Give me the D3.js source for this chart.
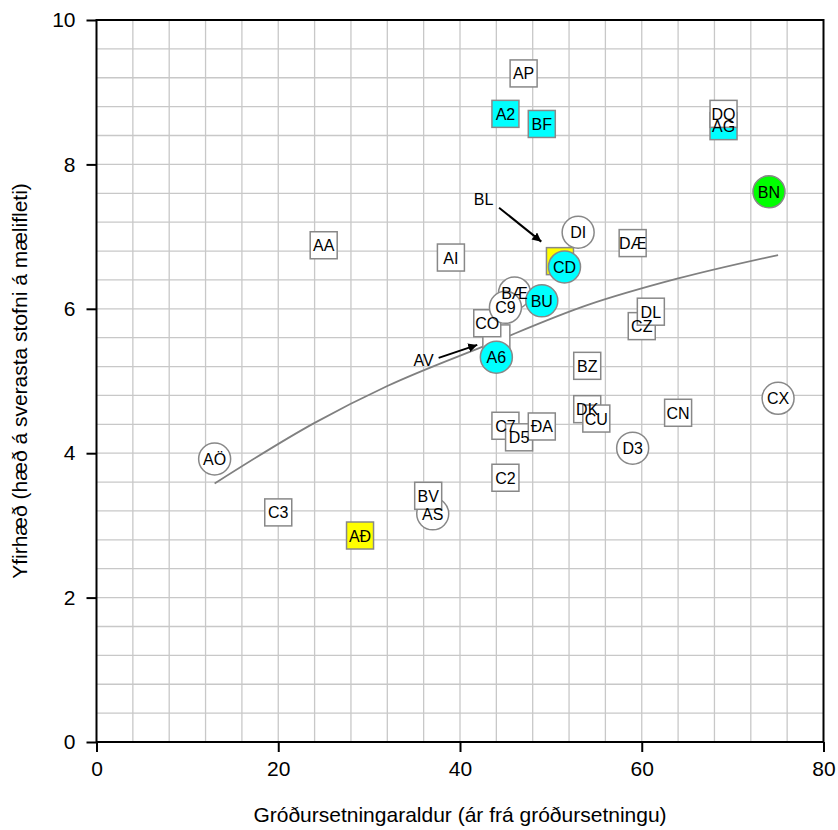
<!DOCTYPE html>
<html>
<head>
<meta charset="utf-8">
<script src="https://cdn.jsdelivr.net/npm/d3@7"></script>
<style>
  body { margin: 0; background: #fff; }
  svg { font-family: "Liberation Sans", Arial, sans-serif; }
</style>
</head>
<body>
<div id="chart"></div>
<script>
// data (drawing order = bottom to top)
const names  = ["AS","BV","AG","DQ","CZ","DL","DK","CU","C7","D5","ĐA","AV","CO","BÆ","C9","BU","A6","BL","CD",
                "AP","A2","BF","DI","DÆ","AI","AA","BN","BZ","CN","D3","C2","AÖ","C3","AĐ","CX"];
const ages   = [37,36.5,69,69,60,61,54,55,45,46.5,49,44,43,46,45,49,44,51,51.5,
                47,45,49,53,59,39,25,74,54,64,59,45,13,20,29,75];
const height = [3.16,3.41,8.53,8.70,5.76,5.96,4.61,4.48,4.38,4.22,4.37,5.59,5.80,6.22,6.02,6.11,5.33,6.66,6.58,
                9.26,8.70,8.56,7.06,6.91,6.71,6.88,7.62,5.21,4.56,4.07,3.66,3.92,3.18,2.86,4.76];
const shapes = ["c","s","s","s","s","s","s","s","s","s","s","s","s","c","c","c","c","s","c",
                "s","s","s","c","s","s","s","c","s","s","c","s","c","s","s","c"];
const fills  = ["w","w","cy","w","w","w","w","w","w","w","w","w","w","w","w","cy","cy","ye","cy",
                "w","cy","cy","w","w","w","w","gr","w","w","w","w","w","w","ye","w"];
// points labelled with an arrow instead of inside the marker
const arrowed = ["BL", "AV"];

// trend line
const trendX = [13, 24, 32, 43, 54, 64, 75];
const trendY = [3.58, 4.42, 4.93, 5.50, 6.05, 6.42, 6.745];

// annotations: label, label pos, arrow start, arrow end
const notes = [
  {text: "BL", lx: 42.6, ly: 7.52, x1: 44.3, y1: 7.40, x2: 48.95, y2: 6.93},
  {text: "AV", lx: 36.0, ly: 5.29, x1: 37.65, y1: 5.32, x2: 41.9, y2: 5.50}
];

const xTicks = [0, 20, 40, 60, 80];
const yTicks = [0, 2, 4, 6, 8, 10];

const colors = {w: "#ffffff", cy: "#00ffff", ye: "#ffff00", gr: "#00ff00"};

const margin = {top: 20, right: 14.5, bottom: 88, left: 96.5};
const W = 838, H = 830;
const width = W - margin.left - margin.right;
const height2 = H - margin.top - margin.bottom;

const svg = d3.select("#chart").append("svg")
  .attr("width", W).attr("height", H);

svg.append("defs").append("marker")
  .attr("id", "arrow")
  .attr("viewBox", "0 0 10 10")
  .attr("refX", 10).attr("refY", 5)
  .attr("markerWidth", 9).attr("markerHeight", 9)
  .attr("markerUnits", "userSpaceOnUse")
  .attr("orient", "auto")
  .append("path").attr("d", "M0,0 L10,5 L0,10 z").attr("fill", "#000");

const g = svg.append("g")
  .attr("transform", "translate(" + margin.left + "," + margin.top + ")");

const x = d3.scaleLinear().domain([0, 80]).range([0, width]);
const y = d3.scaleLinear().domain([0, 10]).range([height2, 0]);

// grid
g.append("g").selectAll("line")
  .data(d3.range(4, 80, 4))
  .enter().append("line")
  .attr("x1", d => x(d)).attr("x2", d => x(d))
  .attr("y1", 0).attr("y2", height2)
  .attr("stroke", "#c8c8c8").attr("stroke-width", 1.3);
g.append("g").selectAll("line")
  .data(d3.range(1, 25).map(i => i * 0.4))
  .enter().append("line")
  .attr("y1", d => y(d)).attr("y2", d => y(d))
  .attr("x1", 0).attr("x2", width)
  .attr("stroke", "#c8c8c8").attr("stroke-width", 1.3);

// axes
const xAxis = g.append("g")
  .attr("transform", "translate(0," + height2 + ")")
  .call(d3.axisBottom(x).tickValues(xTicks).tickSize(10).tickPadding(9));
const yAxis = g.append("g")
  .call(d3.axisLeft(y).tickValues(yTicks).tickSize(10).tickPadding(11));
[xAxis, yAxis].forEach(a => {
  a.select(".domain").remove();
  a.selectAll("line").attr("stroke", "#000").attr("stroke-width", 2);
  a.selectAll("text").attr("font-size", 21).attr("fill", "#000")
    .style("font-family", "'Liberation Sans', Arial, sans-serif");
});

// frame
g.append("rect")
  .attr("width", width).attr("height", height2)
  .attr("fill", "none").attr("stroke", "#000").attr("stroke-width", 2);

// trend line
g.append("path")
  .datum(trendX.map((d, i) => [d, trendY[i]]))
  .attr("fill", "none").attr("stroke", "#808080").attr("stroke-width", 1.8)
  .attr("d", d3.line().x(d => x(d[0])).y(d => y(d[1])).curve(d3.curveMonotoneX));

// markers
const pts = names.map((n, i) => ({name: n, x: ages[i], y: height[i], shape: shapes[i], fill: colors[fills[i]]}));
const marks = g.append("g");
pts.forEach(d => {
  if (d.shape === "s") {
    marks.append("rect")
      .attr("x", x(d.x) - 13.5).attr("y", y(d.y) - 13.5)
      .attr("width", 27).attr("height", 27)
      .attr("fill", d.fill).attr("stroke", "#888").attr("stroke-width", 1.5);
  } else {
    marks.append("circle")
      .attr("cx", x(d.x)).attr("cy", y(d.y)).attr("r", 16)
      .attr("fill", d.fill).attr("stroke", "#888").attr("stroke-width", 1.5);
  }
});
g.append("g").selectAll("text")
  .data(pts.filter(d => !arrowed.includes(d.name))).enter().append("text")
  .attr("x", d => x(d.x)).attr("y", d => y(d.y) + 6)
  .attr("text-anchor", "middle").attr("font-size", 16).attr("fill", "#000")
  .text(d => d.name);

// annotations
notes.forEach(n => {
  g.append("text").attr("x", x(n.lx)).attr("y", y(n.ly) + 6)
    .attr("text-anchor", "middle").attr("font-size", 16).text(n.text);
  g.append("line")
    .attr("x1", x(n.x1)).attr("y1", y(n.y1)).attr("x2", x(n.x2)).attr("y2", y(n.y2))
    .attr("stroke", "#000").attr("stroke-width", 2).attr("marker-end", "url(#arrow)");
});

// axis titles
svg.append("text")
  .attr("x", margin.left + width / 2).attr("y", 822)
  .attr("text-anchor", "middle").attr("font-size", 21)
  .text("Gróðursetningaraldur (ár frá gróðursetningu)");
svg.append("text")
  .attr("transform", "translate(27," + (margin.top + height2 / 2) + ") rotate(-90)")
  .attr("text-anchor", "middle").attr("font-size", 21)
  .text("Yfirhæð (hæð á sverasta stofni á mælifleti)");
</script>
</body>
</html>
